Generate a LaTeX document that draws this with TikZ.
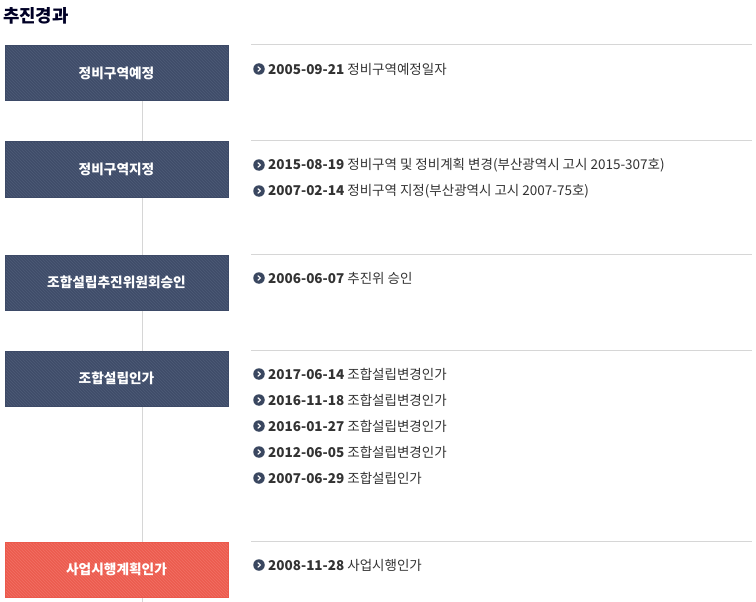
\documentclass[tikz,border=0pt]{standalone}
\usepackage{fontspec}
\setmainfont{Noto Sans CJK KR}
\definecolor{navybox}{HTML}{3D4A67}
\definecolor{navystripe}{HTML}{4A5874}
\definecolor{redbox}{HTML}{EB594C}
\definecolor{redstripe}{HTML}{F06C60}
\definecolor{rulegray}{HTML}{D6D6D6}
\definecolor{txt}{HTML}{333333}
\definecolor{bul}{HTML}{3A4760}
\tikzset{
  x=1pt,y=-1pt,
  stagebox/.style={minimum width=223pt,minimum height=55pt,inner sep=0pt,anchor=north west,
    line width=1pt,text=white,font=\bfseries\fontsize{13.7}{15}\selectfont},
  stripes/.style={path picture={
    \foreach \k in {-60,-57,...,230}
      \draw[#1,line width=0.9pt] ([xshift=\k pt]path picture bounding box.north west) -- ++(62pt,-62pt);}},
  navystage/.style={stagebox,fill=navybox,draw=navybox,stripes=navystripe},
  redstage/.style={stagebox,fill=redbox,draw=redbox,stripes=redstripe},
  entry/.style={anchor=west,inner sep=0pt,text=txt,font=\fontsize{13.5}{15}\selectfont},
  bulletdot/.style={circle,fill=bul,minimum size=11.5pt,inner sep=0pt},
  sepline/.style={rulegray,line width=1pt},
}
\newcommand{\entrybullet}[3]{%
  \node[bulletdot] (#1b) at (259,#2) {};
  \draw[white,line width=1.1pt] ([xshift=-1.3pt,yshift=-2.4pt]#1b.center) -- ([xshift=1.4pt]#1b.center) -- ([xshift=-1.3pt,yshift=2.4pt]#1b.center);
  \node[entry] (#1t) at (268,#2) {#3};
}
\begin{document}
\begin{tikzpicture}
\useasboundingbox (0,0) rectangle (756,602);
\fill[white] (0,0) rectangle (756,602);
\node[anchor=west,inner sep=0pt,text=black!85!blue,font=\bfseries\fontsize{17.8}{19}\selectfont] (title) at (3,16) {추진경과};
\coordinate (vtop) at (142,45);
\coordinate (vbot) at (142,602);
\draw[rulegray,line width=1pt] (vtop) -- (vbot);
% separators
\foreach \yy/\nm in {45/s1,141/s2,254/s3,350/s4,541/s5}{
  \coordinate (\nm a) at (251,\yy);
  \coordinate (\nm b) at (752,\yy);
  \draw[sepline] (\nm a) -- (\nm b);
}
\node[navystage] (st1) at (4.5,45.5) {정비구역예정};
\node[navystage] (st2) at (4.5,141.5) {정비구역지정};
\node[navystage] (st3) at (4.5,254.5) {조합설립추진위원회승인};
\node[navystage] (st4) at (4.5,350.5) {조합설립인가};
\node[redstage] (st5) at (4.5,541.5) {사업시행계획인가};
\entrybullet{e1}{69}{\textbf{2005-09-21} 정비구역예정일자}
\entrybullet{e2}{165}{\textbf{2015-08-19} 정비구역 및 정비계획 변경(부산광역시 고시 2015-307호)}
\entrybullet{e3}{191}{\textbf{2007-02-14} 정비구역 지정(부산광역시 고시 2007-75호)}
\entrybullet{e4}{278}{\textbf{2006-06-07} 추진위 승인}
\entrybullet{e5}{374}{\textbf{2017-06-14} 조합설립변경인가}
\entrybullet{e6}{400}{\textbf{2016-11-18} 조합설립변경인가}
\entrybullet{e7}{426}{\textbf{2016-01-27} 조합설립변경인가}
\entrybullet{e8}{452}{\textbf{2012-06-05} 조합설립변경인가}
\entrybullet{e9}{478}{\textbf{2007-06-29} 조합설립인가}
\entrybullet{e10}{565}{\textbf{2008-11-28} 사업시행인가}
\end{tikzpicture}
\end{document}
